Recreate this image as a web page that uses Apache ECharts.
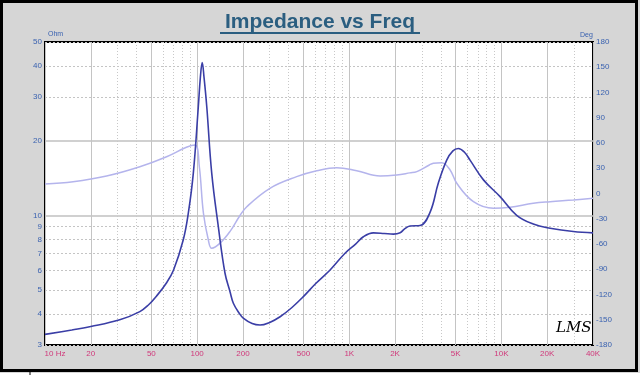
<!DOCTYPE html>
<html><head><meta charset="utf-8">
<script src="https://cdn.jsdelivr.net/npm/echarts@6/dist/echarts.min.js"></script>
<style>html,body{margin:0;padding:0;background:#fff}#c{width:640px;height:375px}</style>
</head><body><div id="c"></div>
<script>
// Impedance magnitude (Ohm) vs frequency (Hz)
const impFreq = [10,15,20,31,42,48,54,63,70,81,87.5,94.4,101.8,105,108,111,115.7,124.7,137.8,152.5,164.5,173,189,201,230,259,300,351,420,499,600,748,938,1100,1238,1440,1700,1950,2160,2300,2510,2920,3400,3850,4370,4800,5210,5700,6220,7620,9800,12600,16200,20900,29700,40000];
const impVal  = [3.31,3.45,3.56,3.79,4.09,4.36,4.72,5.35,6.02,7.95,10.2,14.8,27.4,36,41.3,36,27.4,14.8,9.0,5.84,4.92,4.42,4.03,3.85,3.66,3.61,3.70,3.90,4.25,4.70,5.30,6.02,7.03,7.65,8.2,8.5,8.45,8.4,8.5,8.8,9.06,9.1,10.3,13.5,16.7,18.2,18.6,18.0,16.7,13.9,11.9,10.0,9.22,8.87,8.6,8.5];
// Phase (degrees) vs frequency (Hz)
const phFreq = [10,15.3,25.4,42,63,85,97,103.4,110,118.5,124.7,141.5,164.6,189,212,301,451,611,827,1120,1594,2050,2500,2780,3360,3570,4050,4600,5090,6550,8870,11400,16200,20900,29700,40000];
const phVal  = [11.3,14,20.8,31.8,43.7,54.9,57.6,31.8,-23.5,-55.2,-65,-59,-45,-27.6,-15.7,6.2,20,27,30.7,27,20.8,22,24.5,26,33.9,35.9,36.6,28,12.1,-9.7,-17.6,-16.4,-11.6,-9.7,-7.7,-5.7];
// Axis ticks
const xMajor = [10,20,50,100,200,500,1000,2000,5000,10000,20000,40000];
const xLabels = ['10 Hz','20','50','100','200','500','1K','2K','5K','10K','20K','40K'];
const xMinor = [30,40,60,70,80,90,300,400,600,700,800,900,3000,4000,6000,7000,8000,9000,30000];
const yLeftTicks = [3,4,5,6,7,8,9,10,20,30,40,50];
const yLeftMajor = [10,20];
const yLeftMinor = [3,4,5,6,7,8,9,30,40,50];
const yRightMin = -180, yRightMax = 180, yRightStep = 30;

const chart = echarts.init(document.getElementById('c'), null, {renderer:'canvas'});
const lblFont = 'Liberation Sans';
const option = {
  animation: false,
  backgroundColor: '#d6d6d6',
  title: {
    text: 'Impedance vs Freq', left: 'center', top: 7,
    textStyle: {fontFamily: lblFont, fontSize: 21, fontWeight: 'bold', color: '#2b5e80'}
  },
  grid: {left: 45, top: 42, right: 47, bottom: 30, show: true, backgroundColor: '#ffffff', borderColor: '#000', borderWidth: 2},
  xAxis: [
    {type: 'log', logBase: 10, min: 10, max: 40000, position: 'bottom',
     axisLine: {show: false}, axisTick: {show: false, customValues: xMajor},
     axisLabel: {customValues: xMajor, color: '#d0387a', fontSize: 8, fontFamily: lblFont, margin: 5,
       formatter: v => { const i = xMajor.findIndex(m => Math.abs(m - v) / m < 1e-6); const s = i >= 0 ? xLabels[i] : ''; return i === 0 ? '{f|' + s + '}' : s; },
       rich: {f: {padding: [0,0,0,20], color: '#d0387a', fontSize: 8, fontFamily: lblFont}}},
     splitLine: {show: true, lineStyle: {color: '#c4c4c4', width: 1, type: 'solid'}}},
    {type: 'log', logBase: 10, min: 10, max: 40000, position: 'bottom',
     axisLine: {show: false}, axisTick: {show: false, customValues: xMinor},
     axisLabel: {show: false, customValues: xMinor},
     splitLine: {show: true, lineStyle: {color: '#c8c8c8', width: 1, type: [1,2]}}}
  ],
  yAxis: [
    {type: 'log', logBase: 10, min: 3, max: 50, position: 'left',
     axisLine: {show: false}, axisTick: {show: false, customValues: yLeftMajor},
     axisLabel: {customValues: yLeftTicks, color: '#3a62b0', fontSize: 8, fontFamily: lblFont, margin: 3},
     splitLine: {show: true, lineStyle: {color: '#c0c0c0', width: 1.5, type: 'solid'}}},
    {type: 'value', min: yRightMin, max: yRightMax, interval: yRightStep, position: 'right',
     axisLine: {show: false}, axisTick: {show: false},
     axisLabel: {color: '#3a62b0', fontSize: 8, fontFamily: lblFont, margin: 3},
     splitLine: {show: false}},
    {type: 'log', logBase: 10, min: 3, max: 50, position: 'left',
     axisLine: {show: false}, axisTick: {show: false, customValues: yLeftMinor},
     axisLabel: {show: false, customValues: yLeftMinor},
     splitLine: {show: true, lineStyle: {color: '#c4c4c4', width: 1, type: [2,2]}}}
  ],
  series: [
    {type: 'line', name: 'Phase', xAxisIndex: 0, yAxisIndex: 1, showSymbol: false, smooth: 0.4,
     lineStyle: {color: '#b4b4ec', width: 1.5},
     data: phFreq.map((f, i) => [f, phVal[i]])},
    {type: 'line', name: 'Impedance', xAxisIndex: 0, yAxisIndex: 0, showSymbol: false, smooth: 0.4,
     lineStyle: {color: '#3a3ea6', width: 1.6},
     data: impFreq.map((f, i) => [f, impVal[i]])}
  ],
  graphic: [
    {type: 'line', shape: {x1: 220, y1: 33, x2: 420, y2: 33}, style: {stroke: '#2b5e80', lineWidth: 2}, z: 10},
    {type: 'text', left: 48, top: 31, style: {text: 'Ohm', fill: '#3a62b0', font: '7px "Liberation Sans"'}},
    {type: 'text', left: 580, top: 32, style: {text: 'Deg', fill: '#3a62b0', font: '7px "Liberation Sans"'}},
    {type: 'text', left: 556, top: 321, style: {text: 'LMS', fill: '#000', font: 'italic 15px "DejaVu Serif"'}, z: 10},
    {type: 'rect', shape: {x: 1.5, y: 1.5, width: 635, height: 369}, style: {fill: 'none', stroke: '#000', lineWidth: 3}, z: 20},
    {type: 'rect', shape: {x: 0, y: 373, width: 640, height: 2}, style: {fill: '#ffffff'}, z: 20},
    {type: 'line', shape: {x1: 30, y1: 372, x2: 30, y2: 375}, style: {stroke: '#000', lineWidth: 1}, z: 21}
  ]
};
chart.setOption(option);
</script></body></html>
